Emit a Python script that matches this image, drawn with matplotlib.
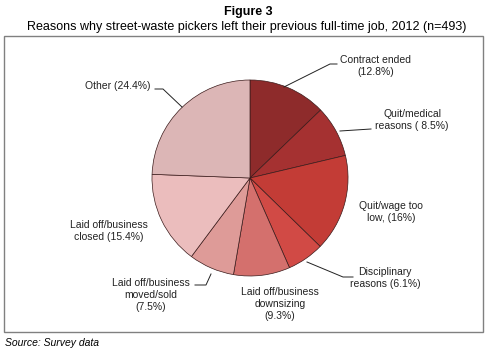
import matplotlib.pyplot as plt
from matplotlib.patches import Rectangle

plt.rcParams['font.family'] = ['Liberation Sans', 'DejaVu Sans']

labels = ['Contract ended\n(12.8%)', 'Quit/medical\nreasons ( 8.5%)', 'Quit/wage too\nlow, (16%)',
          'Disciplinary\nreasons (6.1%)', 'Laid off/business\ndownsizing\n(9.3%)',
          'Laid off/business\nmoved/sold\n(7.5%)', 'Laid off/business\nclosed (15.4%)', 'Other (24.4%)']
shares = [12.8, 8.5, 16, 6.1, 9.3, 7.5, 15.4, 24.4]
colors = ['#8e2b2b', '#a53131', '#c33c36', '#d14a45', '#d4706d', '#de9b98', '#ebbdbd', '#dcb6b6']

# label anchor points (pixel coords, y from top) and leader lines
label_pos = [(376, 66), (412, 120), (391, 212), (385, 278), (280, 304), (151, 295), (109, 231), (118, 86)]
leaders = [[(284, 87), (330, 64), (337, 64)],
           [(340, 131), (371, 129)],
           None,
           [(307, 262), (343, 277), (353, 277)],
           None,
           [(211, 274), (206, 285), (195, 285)],
           None,
           [(182, 107), (163, 89), (155, 89)]]

W, H = 488, 353
fig = plt.figure(figsize=(W / 100, H / 100), dpi=100)
ax = fig.add_axes([0, 0, 1, 1])

ax.add_patch(Rectangle((4, H - 332), 479, 296, fill=False, edgecolor='#808080', lw=1))

explode = [0, 0, 0.03, 0.01, 0, 0, 0, 0]
ax.pie(shares, colors=colors, startangle=90, counterclock=False, center=(250, H - 178),
       radius=98, explode=explode, frame=True,
       wedgeprops=dict(edgecolor='#3a1a1a', linewidth=0.5))
ax.set_xlim(0, W)
ax.set_ylim(0, H)
ax.set_aspect('equal')
ax.axis('off')

for lab, (x, y) in zip(labels, label_pos):
    ax.text(x, H - y, lab, ha='center', va='center', fontsize=7.5, color='#222222', linespacing=1.25)

for ln in leaders:
    if ln:
        ax.plot([p[0] for p in ln], [H - p[1] for p in ln], color='#222222', lw=0.7)

fig.text(248 / W, 1 - 12 / H, 'Figure 3', ha='center', va='center', fontsize=9, fontweight='bold')
fig.text(247 / W, 1 - 27 / H, 'Reasons why street-waste pickers left their previous full-time job, 2012 (n=493)',
         ha='center', va='center', fontsize=9)
fig.text(5 / W, 1 - 343 / H, 'Source: Survey data', ha='left', va='center', fontsize=7.5, style='italic')

fig.savefig('out.png', dpi=100)
